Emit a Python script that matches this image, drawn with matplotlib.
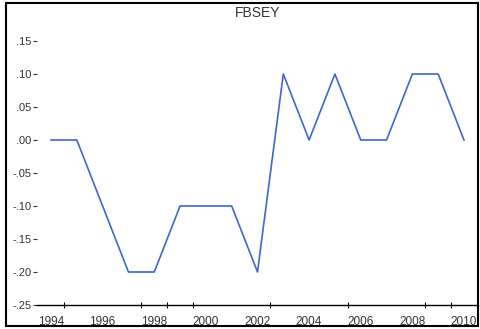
import matplotlib.pyplot as plt
from matplotlib.patches import Rectangle
from matplotlib.ticker import FuncFormatter

years = list(range(1994, 2011))
fbsey = [0.00, 0.00, -0.10, -0.20, -0.20, -0.10, -0.10, -0.10, -0.20,
         0.10, 0.00, 0.10, 0.00, 0.00, 0.10, 0.10, 0.00]
year_labels = [1994, 1996, 1998, 2000, 2002, 2004, 2006, 2008, 2010]
y_ticks = [-0.25, -0.20, -0.15, -0.10, -0.05, 0.00, 0.05, 0.10, 0.15]
x_marks = [1994.5, 1997.5, 1998.5, 1999.5, 2002.5, 2005.5, 2008.5, 2009.5]

plt.rcParams['font.family'] = ['Liberation Sans', 'DejaVu Sans']


def fmt(v, pos):
    s = f'{round(v, 2):.2f}'
    if s.startswith('-0.'):
        return '-' + s[2:]
    if s in ('0.00', '-0.00'):
        return '.00'
    return s[1:]


fig = plt.figure(figsize=(4.8, 3.29), dpi=100)
W, H = 480, 329
ax = fig.add_axes([37 / W, (H - 305) / H, (478 - 37) / W, (305 - 3) / H])

ax.plot(years, fbsey, color='#4066d0', linewidth=1.2)

ax.set_xlim(1993.457, 2010.543)
ax.set_ylim(-0.25, 0.2076)

ax.set_yticks(y_ticks)
ax.yaxis.set_major_formatter(FuncFormatter(fmt))
ax.tick_params(axis='y', direction='out', length=3, width=0.8, pad=1,
               labelsize=8, colors='#333333')

ax.set_xticks(year_labels)
ax.set_xticklabels([str(y) for y in year_labels])
ax.tick_params(axis='x', which='major', length=0, pad=8, labelsize=8.5,
               colors='#333333')
ax.set_xticks(x_marks, minor=True)
ax.tick_params(axis='x', which='minor', direction='inout', length=5, width=0.8)

ax.spines['left'].set_visible(False)
ax.spines['top'].set_visible(False)
ax.spines['right'].set_visible(False)
ax.spines['bottom'].set_linewidth(1.0)

ax.text(0.5, 0.967, 'FBSEY', transform=ax.transAxes, ha='center', va='center',
        fontsize=10, color='#333333')

fig.patches.append(Rectangle((6 / W, (H - 326) / H), (478 - 6) / W, (326 - 3) / H,
                             transform=fig.transFigure, fill=False,
                             edgecolor='black', linewidth=1.5))

fig.savefig('out.png', dpi=100)
